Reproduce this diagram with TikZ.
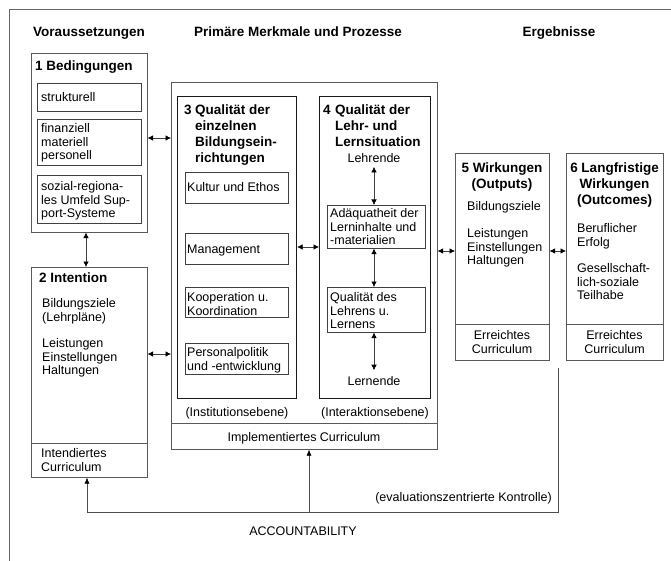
\documentclass[tikz,border=0pt]{standalone}
\usepackage{fontspec}
\setmainfont{Liberation Sans}
\usetikzlibrary{arrows.meta}
\newcommand\fnorm{\fontsize{12.5}{13.5}\selectfont}
\newcommand\fbold{\fontsize{13.5}{16}\selectfont\bfseries}
\begin{document}
\begin{tikzpicture}[x=1pt,y=-1pt,
  thinline/.style={draw=black!65, line width=0.6pt},
  frameline/.style={draw=black!60, line width=1pt},
  box/.style={draw=black!65, line width=0.6pt, inner sep=0pt, anchor=north west},
  hbox/.style={draw=black!90, line width=1.1pt, inner sep=0pt, anchor=north west},
  ibox/.style={draw=black!75, line width=0.6pt, inner sep=0pt, anchor=north west},
  tx/.style={inner sep=0pt, font=\fnorm, align=left, anchor=north west},
  tb/.style={inner sep=0pt, font=\fbold, align=left, anchor=north west},
  tc/.style={inner sep=0pt, font=\fnorm, align=center, anchor=north},
  tbc/.style={inner sep=0pt, font=\fbold, align=center, anchor=north},
  one/.style={inner sep=0pt, font=\fnorm, anchor=base west},
  onec/.style={inner sep=0pt, font=\fnorm, anchor=base},
  onebw/.style={inner sep=0pt, font=\fbold, anchor=base west},
  headtxt/.style={inner sep=0pt, font=\fbold, anchor=base},
  dbl/.style={draw=black!75, line width=0.6pt, {Latex[length=5.5pt,width=5.5pt,color=black]}-{Latex[length=5.5pt,width=5.5pt,color=black]}},
  uparrow/.style={draw=black!70, line width=0.6pt, -{Latex[length=6pt,width=5pt,color=black]}},
]
\useasboundingbox (0,0) rectangle (671,561);
% outer frame
\draw[frameline] (9,561) -- (9,10) -- (671,10);

% column headers
\node[headtxt] (h1) at (89,37) {Voraussetzungen};
\node[headtxt] (h2) at (298,37) {Primäre Merkmale und Prozesse};
\node[headtxt] (h3) at (559,37) {Ergebnisse};

% box 1
\node[box, minimum width=116pt, minimum height=179pt] (b1) at (31,53) {};
\node[onebw] (t1) at (35,71) {1 Bedingungen};
\node[ibox, minimum width=104pt, minimum height=28pt] (b1a) at (37,83) {};
\node[one] (t1a) at (41,102) {strukturell};
\node[ibox, minimum width=104pt, minimum height=46pt] (b1b) at (37,119) {};
\node[tx] (t1b) at (41,123) {\strut finanziell\\materiell\\personell};
\node[ibox, minimum width=104pt, minimum height=48pt] (b1c) at (37,175) {};
\node[tx] (t1c) at (41,181) {\strut sozial-regiona-\\les Umfeld Sup-\\port-Systeme};

% box 2
\node[box, minimum width=116pt, minimum height=210pt] (b2) at (31,267) {};
\draw[thinline] (b2.west |- 0,443) -- (b2.east |- 0,443);
\node[onebw] (t2) at (39,282) {2 Intention};
\node[tx] (t2a) at (42,298) {\strut Bildungsziele\\(Lehrpläne)};
\node[tx] (t2b) at (42,338) {\strut Leistungen\\Einstellungen\\Haltungen};
\node[tx] (t2c) at (41,448) {\strut Intendiertes\\Curriculum};

% big box
\node[box, minimum width=266pt, minimum height=367pt] (big) at (171,82) {};
\draw[thinline] (big.west |- 0,423) -- (big.east |- 0,423);
\node[onec] (impl) at (304,441.5) {Implementiertes Curriculum};

% box 3
\node[hbox, minimum width=119pt, minimum height=302pt] (b3) at (177,96) {};
\node[tb] (t3) at (184,102.8) {\strut\makebox[11pt][l]{3}Qualität der\\\hspace*{11pt}einzelnen\\\hspace*{11pt}Bildungsein-\\\hspace*{11pt}richtungen};
\node[ibox, minimum width=103pt, minimum height=31pt] (b3a) at (185,172) {};
\node[one] (t3a) at (187,191.5) {Kultur und Ethos};
\node[ibox, minimum width=103pt, minimum height=31pt] (b3b) at (185,233) {};
\node[one] (t3b) at (187,253.5) {Management};
\node[ibox, minimum width=103pt, minimum height=30pt] (b3c) at (185,287) {};
\node[tx] (t3c) at (187,292) {\strut Kooperation u.\\Koordination};
\node[ibox, minimum width=103pt, minimum height=31pt] (b3d) at (185,343) {};
\node[tx] (t3d) at (187,347) {\strut Personalpolitik\\und -entwicklung};
\node[onec] (inst) at (237,416.5) {(Institutionsebene)};

% box 4
\node[hbox, minimum width=111pt, minimum height=302pt] (b4) at (319,96) {};
\node[tb] (t4) at (323,102.8) {\strut\makebox[12pt][l]{4}Qualität der\\\hspace*{12pt}Lehr- und\\\hspace*{12pt}Lernsituation};
\node[onec] (leh) at (374,162.5) {Lehrende};
\node[ibox, minimum width=98pt, minimum height=43pt] (b4a) at (327,205) {};
\node[tx] (t4a) at (330,208) {\strut Adäquatheit der\\Lerninhalte und\\-materialien};
\node[ibox, minimum width=98pt, minimum height=45pt] (b4b) at (327,287) {};
\node[tx] (t4b) at (330,292) {\strut Qualität des\\Lehrens u.\\Lernens};
\node[onec] (lern) at (374,385.5) {Lernende};
\node[onec] (inter) at (375,416.5) {(Interaktionsebene)};
\draw[dbl] ([yshift=-4pt]leh.south) -- (b4a.north -| leh.south);
\draw[dbl] (b4a.south -| leh.south) -- (b4b.north -| leh.south);
\draw[dbl] (b4b.south -| leh.south) -- ([yshift=6pt]lern.north);

% box 5
\node[box, minimum width=94pt, minimum height=207pt] (b5) at (455,153) {};
\draw[thinline] (b5.west |- 0,324) -- (b5.east |- 0,324);
\node[tbc] (t5) at (502,160.8) {\strut 5 Wirkungen\\(Outputs)};
\node[one] (t5a) at (467,210.5) {Bildungsziele};
\node[tx] (t5b) at (467,228) {\strut Leistungen\\Einstellungen\\Haltungen};
\node[tc] (t5c) at (502,330) {\strut Erreichtes\\Curriculum};

% box 6
\node[box, minimum width=97pt, minimum height=207pt] (b6) at (566,153) {};
\draw[thinline] (b6.west |- 0,324) -- (b6.east |- 0,324);
\node[tbc] (t6) at (614.5,160.8) {\strut 6 Langfristige\\Wirkungen\\(Outcomes)};
\node[tx] (t6a) at (577,223) {\strut Beruflicher\\Erfolg};
\node[tx] (t6b) at (577,263) {\strut Gesellschaft-\\lich-soziale\\Teilhabe};
\node[tc] (t6c) at (614.5,330) {\strut Erreichtes\\Curriculum};

% connectors
\draw[dbl] (b1.east |- 0,138) -- (big.west |- 0,138);
\draw[dbl] (b2.east |- 0,354) -- (big.west |- 0,354);
\draw[dbl] (b3.east |- 0,247) -- (b4.west |- 0,247);
\draw[dbl] (big.east |- 0,251) -- (b5.west |- 0,251);
\draw[dbl] (b5.east |- 0,251) -- (b6.west |- 0,251);
\draw[dbl] (b1.south -| 86,0) -- (b2.north -| 86,0);

% accountability
\coordinate (k1) at (558,368);
\coordinate (k3) at (87,512);
\coordinate (k4) at (309,512);
\draw[uparrow] (k1) |- (k3) -- (b2.south -| k3);
\draw[uparrow] (k4) -- (big.south -| k4);
\node[inner sep=0pt, font=\fnorm, anchor=base east] (ev) at (552,501.5) {(evaluationszentrierte Kontrolle)};
\node[onec] (acc) at (303,535) {ACCOUNTABILITY};
\end{tikzpicture}
\end{document}
